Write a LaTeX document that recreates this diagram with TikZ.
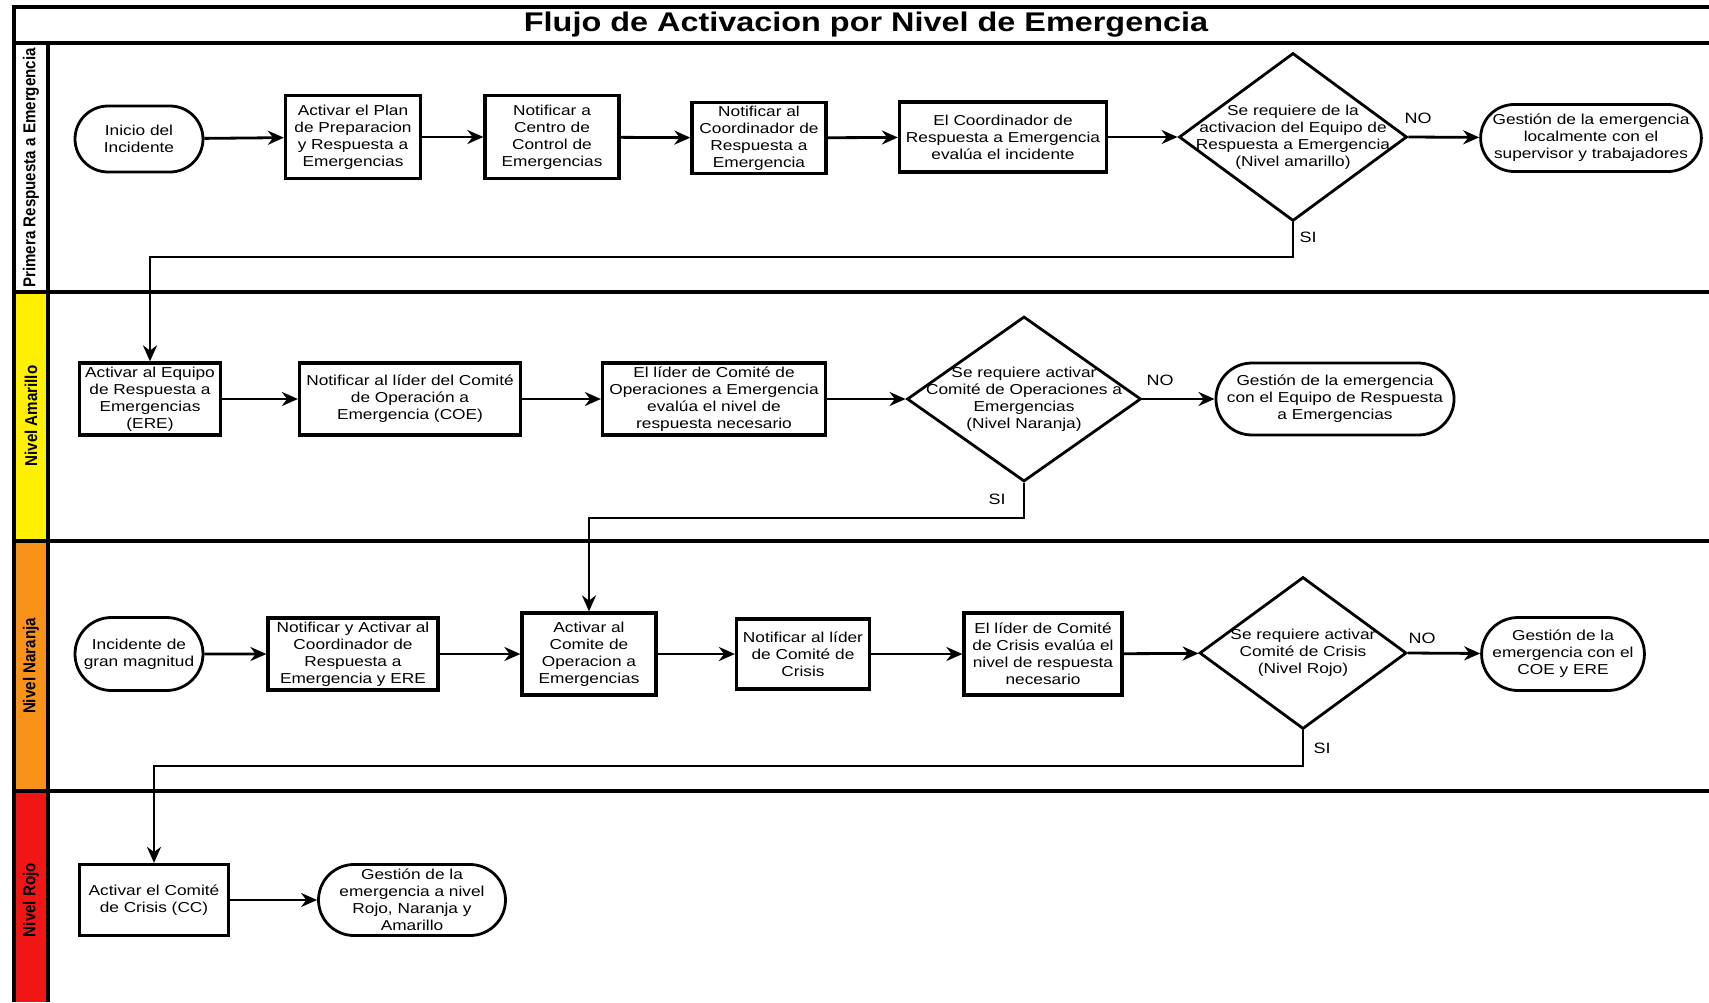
\documentclass[tikz,border=0pt]{standalone}
\usepackage{fontspec}
\setmainfont{Liberation Sans}[FakeStretch=1.2]
\newfontfamily\lanefont{Liberation Sans}[FakeStretch=0.88]
\usetikzlibrary{arrows.meta,shapes.geometric,shapes.misc}

\definecolor{laneyellow}{RGB}{255,240,0}
\definecolor{laneorange}{RGB}{248,146,24}
\definecolor{lanered}{RGB}{240,22,22}

\newcommand{\dtext}[1]{\raisebox{-2pt}[0pt][0pt]{\makebox[0pt]{\begin{tabular}{@{}c@{}}#1\end{tabular}}}}

\begin{document}
\begin{tikzpicture}[x=0.5pt,y=-0.5pt,
  every node/.style={font=\fontsize{7.2}{8.5}\selectfont, text=black},
  proc/.style={draw, line width=1.6pt, rectangle, align=center, inner sep=1pt},
  term/.style={draw, line width=1.4pt, rounded rectangle, align=center, inner sep=1pt},
  decision/.style={draw, line width=1.4pt, diamond, inner sep=0pt},
  arr/.style={line width=1.4pt, -{Stealth[length=8pt,width=7pt]}},
  frame/.style={line width=1.7pt},
  lbl/.style={font=\fontsize{7.5}{9}\selectfont},
  lanetxt/.style={rotate=90, font=\lanefont\bfseries\fontsize{8.6}{10}\selectfont}]

\useasboundingbox (0,0) rectangle (1709,1002);

% lane label fills
\fill[laneyellow] (14,292) rectangle (48,541);
\fill[laneorange] (14,541) rectangle (48,791);
\fill[lanered] (14,791) rectangle (48,1002);

% frame
\draw[frame] (1709,7) -- (14,7) -- (14,1002);
\draw[frame] (14,43) -- (1709,43);
\draw[frame] (48,43) -- (48,1002);
\draw[frame] (14,292) -- (1709,292);
\draw[frame] (14,541) -- (1709,541);
\draw[frame] (14,791) -- (1709,791);

% title
\node[font=\bfseries\fontsize{13.5}{16}\selectfont] (title) at (866,25) {Flujo de Activacion por Nivel de Emergencia};

% lane labels
\node[lanetxt] (L1) at (31,168) {Primera Respuesta a Emergencia};
\node[lanetxt] (L2) at (31,416) {Nivel Amarillo};
\node[lanetxt] (L3) at (31,666) {Nivel Naranja};
\node[lanetxt] (L4) at (31,900) {Nivel Rojo};

% lane 1
\node[term, minimum width=66pt, minimum height=33pt] (n1) at (139,139) {Inicio del\\Incidente};
\node[proc, minimum width=67.5pt, minimum height=41.5pt] (n2) at (353,137) {Activar el Plan\\de Preparacion\\y Respuesta a\\Emergencias};
\node[proc, minimum width=67pt, minimum height=41.5pt] (n3) at (552,137) {Notificar a\\Centro de\\Control de\\Emergencias};
\node[proc, minimum width=67pt, minimum height=35.5pt] (n4) at (759,138) {Notificar al\\Coordinador de\\Respuesta a\\Emergencia};
\node[proc, minimum width=103.5pt, minimum height=35pt] (n5) at (1003,137) {El Coordinador de\\Respuesta a Emergencia\\evalúa el incidente};
\node[decision, minimum width=114pt, minimum height=84pt] (d1) at (1293,137) {\dtext{Se requiere de la\\activacion del Equipo de\\Respuesta a Emergencia\\(Nivel amarillo)}};
\node[term, minimum width=109pt, minimum height=33.5pt] (n6) at (1591,138) {Gestión de la emergencia\\localmente con el\\supervisor y trabajadores};
\node[lbl] (no1) at (1418,118) {NO};
\node[lbl] (si1) at (1308,237) {SI};
\coordinate (s1) at (1293,257);

% lane 2
\node[proc, minimum width=70.5pt, minimum height=36pt] (m1) at (150,399) {Activar al Equipo\\de Respuesta a\\Emergencias\\(ERE)};
\node[proc, minimum width=110.5pt, minimum height=36pt] (m2) at (410,399) {Notificar al líder del Comité\\de Operación a\\Emergencia (COE)};
\node[proc, minimum width=111.5pt, minimum height=36pt] (m3) at (714,399) {El líder de Comité de\\Operaciones a Emergencia\\evalúa el nivel de\\respuesta necesario};
\node[decision, minimum width=117pt, minimum height=82.5pt] (d2) at (1024,399) {\dtext{Se requiere activar\\Comité de Operaciones a\\Emergencias\\(Nivel Naranja)}};
\node[term, minimum width=118.5pt, minimum height=36pt] (m4) at (1335,399) {Gestión de la emergencia\\con el Equipo de Respuesta\\a Emergencias};
\node[lbl] (no2) at (1160,380) {NO};
\node[lbl] (si2) at (997,499) {SI};
\coordinate (s2) at (1024,518);

% lane 3
\node[term, minimum width=66pt, minimum height=36.5pt] (k1) at (139,654) {Incidente de\\gran magnitud};
\node[proc, minimum width=85pt, minimum height=36pt] (k2) at (353,654) {Notificar y Activar al\\Coordinador de\\Respuesta a\\Emergencia y ERE};
\node[proc, minimum width=67pt, minimum height=41pt] (k3) at (589,654) {Activar al\\Comite de\\Operacion a\\Emergencias};
\node[proc, minimum width=66.5pt, minimum height=35pt] (k4) at (803,654) {Notificar al líder\\de Comité de\\Crisis};
\node[proc, minimum width=79pt, minimum height=41pt] (k5) at (1043,654) {El líder de Comité\\de Crisis evalúa el\\nivel de respuesta\\necesario};
\node[decision, minimum width=103.5pt, minimum height=76pt] (d3) at (1303,653) {\dtext{Se requiere activar\\Comité de Crisis\\(Nivel Rojo)}};
\node[term, minimum width=81pt, minimum height=36.5pt] (k6) at (1563,654) {Gestión de la\\emergencia con el\\COE y ERE};
\node[lbl] (no3) at (1422,638) {NO};
\node[lbl] (si3) at (1322,748) {SI};
\coordinate (s3) at (1303,766);

% lane 4
\node[proc, minimum width=74.5pt, minimum height=35.5pt] (r1) at (154,900) {Activar el Comité\\de Crisis (CC)};
\node[term, minimum width=95.5pt, minimum height=35.5pt] (r2) at (412,900) {Gestión de la\\emergencia a nivel\\Rojo, Naranja y\\Amarillo};

% connectors lane 1
\draw[arr] (n1) -- (n2);
\draw[arr] (n2) -- (n3);
\draw[arr] (n3) -- (n4);
\draw[arr] (n4) -- (n5);
\draw[arr] (n5) -- (d1);
\draw[arr] (d1.east) -- (n6);
\draw[arr] (d1.south) -- (s1) -| (m1.north);

% connectors lane 2
\draw[arr] (m1) -- (m2);
\draw[arr] (m2) -- (m3);
\draw[arr] (m3) -- (d2);
\draw[arr] (d2.east) -- (m4);
\draw[arr] (d2.south) -- (s2) -| (k3.north);

% connectors lane 3
\draw[arr] (k1) -- (k2);
\draw[arr] (k2) -- (k3);
\draw[arr] (k3) -- (k4);
\draw[arr] (k4) -- (k5);
\draw[arr] (k5) -- (d3);
\draw[arr] (d3.east) -- (k6);
\draw[arr] (d3.south) -- (s3) -| (r1.north);

% connectors lane 4
\draw[arr] (r1) -- (r2);

\end{tikzpicture}
\end{document}
